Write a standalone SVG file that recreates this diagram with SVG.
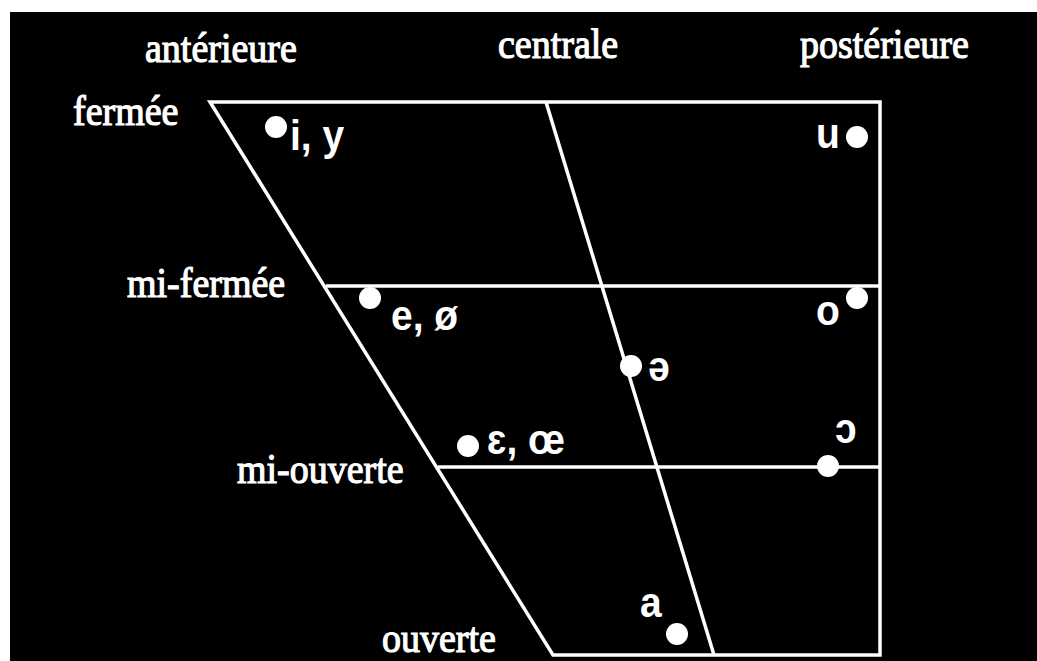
<svg xmlns="http://www.w3.org/2000/svg" width="1037" height="661" viewBox="0 0 1037 661">
<style>
.ln{stroke:#fff;stroke-width:3.5;fill:none;stroke-linejoin:miter}
.dot{fill:#fff}
.ser{font-family:"Liberation Serif","Times New Roman",serif;font-size:38px;fill:#fff;stroke:#fff;stroke-width:1.1}
.sans{font-family:"Liberation Sans",Arial,sans-serif;font-size:39px;fill:#fff;font-weight:bold}
</style>
<rect x="0" y="0" width="1037" height="661" fill="#fff"/>
<rect x="10" y="12" width="1027" height="649" fill="#000"/>
<g id="connectors">
<path class="ln" d="M210,102 L880,102 L880,655 L553,655 Z"/>
<line class="ln" x1="326" y1="286" x2="880" y2="286"/>
<line class="ln" x1="438" y1="467" x2="880" y2="467"/>
<line class="ln" x1="546" y1="102" x2="714" y2="655"/>
</g>
<g id="axis-labels">
<text class="ser" transform="translate(145,62) scale(1,1.12)">antérieure</text>
<text class="ser" transform="translate(498,58) scale(1,1.12)">centrale</text>
<text class="ser" transform="translate(800,58) scale(1,1.12)">postérieure</text>
<text class="ser" transform="translate(73,125) scale(1,1.12)">fermée</text>
<text class="ser" transform="translate(127,297) scale(1,1.12)">mi-fermée</text>
<text class="ser" transform="translate(237,483) scale(1,1.12)">mi-ouverte</text>
<text class="ser" transform="translate(382,652) scale(1,1.12)">ouverte</text>
</g>
<g id="v-iy"><circle class="dot" cx="276" cy="127" r="11"/><text class="sans" transform="translate(290,150) scale(1,1.1)">i, y</text></g>
<g id="v-u"><circle class="dot" cx="857" cy="137" r="11"/><text class="sans" transform="translate(816,148) scale(1,1.1)">u</text></g>
<g id="v-eo"><circle class="dot" cx="370" cy="298" r="11"/><text class="sans" transform="translate(391,330) scale(1,1.1)">e, ø</text></g>
<g id="v-o"><circle class="dot" cx="857" cy="298" r="11"/><text class="sans" transform="translate(816,325) scale(1,1.1)">o</text></g>
<g id="v-schwa"><circle class="dot" cx="631" cy="366" r="11"/><text class="sans" transform="translate(648,381) scale(1,1.1)">ə</text></g>
<g id="v-eps"><circle class="dot" cx="468" cy="446" r="11"/><text class="sans" transform="translate(487,454) scale(1,1.1)">ɛ, œ</text></g>
<g id="v-openo"><circle class="dot" cx="828" cy="466" r="11"/><text class="sans" transform="translate(835,443) scale(1,1.1)">ɔ</text></g>
<g id="v-a"><circle class="dot" cx="677" cy="634" r="11"/><text class="sans" transform="translate(640,617) scale(1,1.1)">a</text></g>
</svg>
